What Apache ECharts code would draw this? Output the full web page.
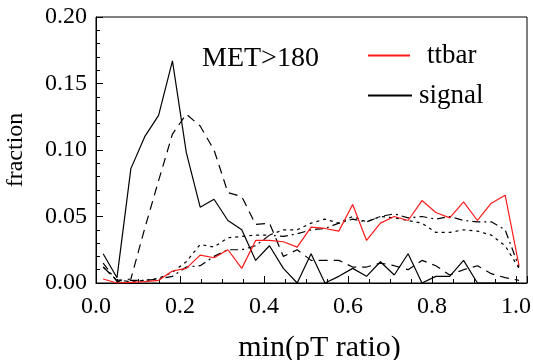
<!DOCTYPE html>
<html>
<head>
<meta charset="utf-8">
<script src="https://cdn.jsdelivr.net/npm/echarts@6/dist/echarts.min.js"></script>
<style>html,body{margin:0;padding:0;background:#fff}#c{width:533px;height:360px}</style>
</head>
<body>
<div id="c"></div>
<script>
const xBins = [0.017,0.050,0.083,0.116,0.149,0.182,0.215,0.248,0.281,0.314,0.347,0.380,0.413,0.446,0.479,0.512,0.545,0.578,0.611,0.644,0.677,0.710,0.743,0.776,0.809,0.842,0.875,0.908,0.941,0.974,1.007];
const ttbar = [0.003,0.000,0.0005,0.001,0.002,0.009,0.011,0.021,0.019,0.025,0.011,0.032,0.032,0.031,0.027,0.042,0.041,0.039,0.059,0.032,0.045,0.050,0.047,0.062,0.053,0.049,0.061,0.047,0.060,0.066,0.013];
const signal = [0.022,0.004,0.086,0.110,0.126,0.167,0.098,0.057,0.063,0.047,0.040,0.017,0.028,0.011,0.000,0.022,0.000,0.005,0.011,0.005,0.016,0.006,0.022,0.000,0.005,0.005,0.017,0.000,0.000,0.000,0.000];
const signal2 = [0.012,0.002,0.003,0.041,0.077,0.112,0.127,0.118,0.100,0.068,0.065,0.044,0.045,0.020,0.025,0.017,0.017,0.017,0.012,0.012,0.015,0.013,0.010,0.017,0.013,0.006,0.010,0.013,0.007,0.004,0.002];
const ttbarDashDot = [0.015,0.001,0.002,0.002,0.003,0.005,0.012,0.013,0.020,0.025,0.025,0.028,0.036,0.035,0.037,0.040,0.041,0.045,0.048,0.046,0.050,0.052,0.049,0.050,0.048,0.050,0.047,0.046,0.046,0.040,0.012];
const ttbarDot = [0.012,0.002,0.001,0.002,0.0035,0.008,0.016,0.029,0.027,0.034,0.035,0.036,0.036,0.040,0.040,0.045,0.048,0.045,0.050,0.046,0.050,0.049,0.047,0.045,0.038,0.038,0.040,0.039,0.036,0.028,0.011];
const xTicks = [0, 0.2, 0.4, 0.6, 0.8, 1.0];
const yTicks = [0, 0.05, 0.10, 0.15, 0.20];

const pts = arr => arr.map((v, i) => [xBins[i], v]);
const FONT = 'Liberation Serif';
const chart = echarts.init(document.getElementById('c'), null, {renderer: 'canvas'});
const axisLine = {show: true, lineStyle: {color: '#000', width: 1}};
const axisTick = {show: true, inside: true, length: 7, lineStyle: {color: '#000'}};
chart.setOption({
  animation: false,
  backgroundColor: '#fff',
  textStyle: {fontFamily: FONT, color: '#000'},
  grid: {left: 96, top: 17, right: 6, bottom: 77, show: true, borderColor: '#000', borderWidth: 1,
    containLabel: false, outerBoundsMode: 'none'},
  title: {text: 'MET>180', left: 197, top: 40, textStyle: {fontFamily: FONT, fontSize: 28, fontWeight: 'normal', color: '#000'}},
  legend: [
    {left: 363, top: 37, itemWidth: 42, itemHeight: 2, itemGap: 0, icon: 'rect',
      textStyle: {fontFamily: FONT, fontSize: 27, color: '#000', padding: [0, 0, 0, 12]},
      data: ['ttbar']},
    {left: 363, top: 77, itemWidth: 44, itemHeight: 2, itemGap: 0, icon: 'rect',
      textStyle: {fontFamily: FONT, fontSize: 27, color: '#000', padding: [0, 0, 0, 2]},
      data: ['signal']}
  ],
  xAxis: {
    type: 'value', min: 0, max: 1.026, interval: 0.2,
    name: 'min(pT ratio)', nameLocation: 'middle', nameGap: 50,
    nameTextStyle: {fontFamily: FONT, fontSize: 30, color: '#000', padding: [0, 0, 0, 16]},
    axisLine: axisLine, axisTick: axisTick,
    minorTick: {show: true, splitNumber: 4, length: 4, lineStyle: {color: '#000'}},
    splitLine: {show: false}, minorSplitLine: {show: false},
    axisLabel: {fontFamily: FONT, fontSize: 24, color: '#000', margin: 12, showMaxLabel: false,
      formatter: v => xTicks.some(t => Math.abs(t - v) < 1e-6) ? v.toFixed(1) : ''}
  },
  yAxis: {
    type: 'value', min: 0, max: 0.2, interval: 0.05,
    name: 'fraction', nameLocation: 'middle', nameGap: 68, nameRotate: 90,
    nameTextStyle: {fontFamily: FONT, fontSize: 24, color: '#000'},
    axisLine: axisLine, axisTick: axisTick,
    minorTick: {show: true, splitNumber: 5, length: 4, lineStyle: {color: '#000'}},
    splitLine: {show: false}, minorSplitLine: {show: false},
    axisLabel: {fontFamily: FONT, fontSize: 24, color: '#000', margin: 9,
      formatter: v => yTicks.some(t => Math.abs(t - v) < 1e-9) ? v.toFixed(2) : ''}
  },
  series: [
    {name: 'ttbar', type: 'line', data: pts(ttbar), showSymbol: false, symbol: 'none', color: '#ff1a1a', lineStyle: {color: '#ff1a1a', width: 1.2}, z: 5},
    {name: 'signal', type: 'line', data: pts(signal), showSymbol: false, symbol: 'none', color: '#000', lineStyle: {color: '#000', width: 1.2}, z: 4},
    {name: 'signal (dashed)', type: 'line', data: pts(signal2), showSymbol: false, symbol: 'none', color: '#000', lineStyle: {color: '#000', width: 1.2, type: [9, 6]}},
    {name: 'ttbar (dash-dot)', type: 'line', data: pts(ttbarDashDot), showSymbol: false, symbol: 'none', color: '#000', lineStyle: {color: '#000', width: 1.2, type: [8, 4, 2, 4]}},
    {name: 'ttbar (dotted)', type: 'line', data: pts(ttbarDot), showSymbol: false, symbol: 'none', color: '#000', lineStyle: {color: '#000', width: 1.2, type: [3, 4]}}
  ]
});
</script>
</body>
</html>
